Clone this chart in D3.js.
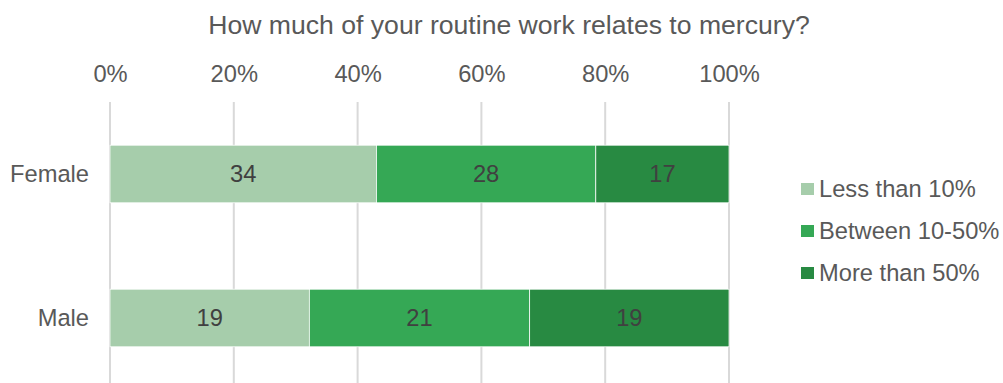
<!DOCTYPE html>
<html>
<head>
<meta charset="utf-8">
<script src="https://cdn.jsdelivr.net/npm/d3@7"></script>
<style>
  html, body { margin: 0; padding: 0; background: #fff; }
  svg { display: block; font-family: "Liberation Sans", Arial, sans-serif; }
</style>
</head>
<body>
<svg id="chart" width="1003" height="383"></svg>
<script>
// Survey answers by gender
const categories = ["Female", "Male"];
const seriesNames = ["Less than 10%", "Between 10-50%", "More than 50%"];
const lessThan10 = [34, 19];
const between10to50 = [28, 21];
const moreThan50 = [17, 19];
const tickValues = [0, 0.2, 0.4, 0.6, 0.8, 1.0];
const colors = ["#a6cdab", "#35a855", "#288a42"];

const svg = d3.select("#chart");
const textColor = "#595959";
const labelSize = 23.7;

const rows = categories.map((c, i) => ({
  category: c,
  [seriesNames[0]]: lessThan10[i],
  [seriesNames[1]]: between10to50[i],
  [seriesNames[2]]: moreThan50[i]
}));

const stacked = d3.stack()
  .keys(seriesNames)
  .offset(d3.stackOffsetExpand)(rows);

const x = d3.scaleLinear().domain([0, 1]).range([110, 729]);
const y = d3.scaleBand().domain(categories).range([102, 390]).paddingInner(0.6).paddingOuter(0.3);

// Title
svg.append("text")
  .attr("x", 509).attr("y", 34)
  .attr("text-anchor", "middle")
  .attr("font-size", 26.6)
  .attr("fill", textColor)
  .text("How much of your routine work relates to mercury?");

// Vertical gridlines
svg.append("g")
  .selectAll("line")
  .data(tickValues)
  .join("line")
  .attr("x1", d => x(d)).attr("x2", d => x(d))
  .attr("y1", 102).attr("y2", 383)
  .attr("stroke", "#d9d9d9")
  .attr("stroke-width", 2);

// Top axis labels
const axis = svg.append("g")
  .attr("transform", "translate(0,82)")
  .call(d3.axisTop(x).tickValues(tickValues).tickFormat(d3.format(".0%")).tickSize(0).tickPadding(0));
axis.select(".domain").remove();
axis.selectAll("text")
  .attr("font-size", labelSize)
  .attr("font-family", "Liberation Sans, Arial, sans-serif")
  .attr("fill", textColor);

// Category labels
svg.append("g")
  .selectAll("text")
  .data(categories)
  .join("text")
  .attr("x", 89)
  .attr("y", d => y(d) + y.bandwidth() / 2)
  .attr("dy", "0.35em")
  .attr("text-anchor", "end")
  .attr("font-size", labelSize)
  .attr("fill", textColor)
  .text(d => d);

// Stacked bars
const layers = svg.append("g")
  .selectAll("g")
  .data(stacked)
  .join("g")
  .attr("fill", (d, i) => colors[i]);

layers.selectAll("rect")
  .data(d => d)
  .join("rect")
  .attr("x", d => x(d[0]))
  .attr("y", d => y(d.data.category))
  .attr("width", d => x(d[1]) - x(d[0]))
  .attr("height", y.bandwidth())
  .attr("stroke", "#ffffff")
  .attr("stroke-width", 0.75);

// Value labels
layers.selectAll("text")
  .data((d) => d.map(p => ({ p, key: d.key })))
  .join("text")
  .attr("x", d => (x(d.p[0]) + x(d.p[1])) / 2)
  .attr("y", d => y(d.p.data.category) + y.bandwidth() / 2)
  .attr("dy", "0.35em")
  .attr("text-anchor", "middle")
  .attr("font-size", labelSize)
  .attr("fill", "#404040")
  .text(d => d.p.data[d.key]);

// Legend
const legend = svg.append("g")
  .selectAll("g")
  .data(seriesNames)
  .join("g")
  .attr("transform", (d, i) => `translate(801,${189 + i * 42})`);
legend.append("rect")
  .attr("x", 0).attr("y", -6)
  .attr("width", 13).attr("height", 12)
  .attr("fill", (d, i) => colors[i]);
legend.append("text")
  .attr("x", 18).attr("y", 0)
  .attr("dy", "0.35em")
  .attr("font-size", labelSize)
  .attr("fill", textColor)
  .text(d => d);
</script>
</body>
</html>
